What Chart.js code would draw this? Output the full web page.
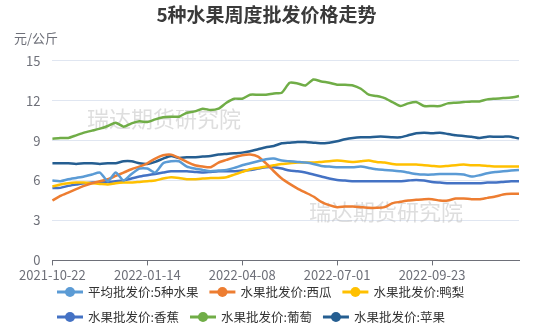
<!DOCTYPE html>
<html>
<head>
<meta charset="utf-8">
<script src="https://cdn.jsdelivr.net/npm/chart.js@4.4.1/dist/chart.umd.min.js"></script>
<style>
  html, body { margin: 0; padding: 0; background: #fff; }
</style>
</head>
<body>
<canvas id="fruitChart" width="550" height="330"></canvas>
<script>
// weekly dates (category axis)
const weeks = [
    "2021-10-22", "2021-10-29", "2021-11-05", "2021-11-12", "2021-11-19", "2021-11-26",
    "2021-12-03", "2021-12-10", "2021-12-17", "2021-12-24", "2021-12-31", "2022-01-07",
    "2022-01-14", "2022-01-21", "2022-01-28", "2022-02-04", "2022-02-11", "2022-02-18",
    "2022-02-25", "2022-03-04", "2022-03-11", "2022-03-18", "2022-03-25", "2022-04-01",
    "2022-04-08", "2022-04-15", "2022-04-22", "2022-04-29", "2022-05-06", "2022-05-13",
    "2022-05-20", "2022-05-27", "2022-06-03", "2022-06-10", "2022-06-17", "2022-06-24",
    "2022-07-01", "2022-07-08", "2022-07-15", "2022-07-22", "2022-07-29", "2022-08-05",
    "2022-08-12", "2022-08-19", "2022-08-26", "2022-09-02", "2022-09-09", "2022-09-16",
    "2022-09-23", "2022-09-30", "2022-10-07", "2022-10-14", "2022-10-21", "2022-10-28",
    "2022-11-04", "2022-11-11", "2022-11-18", "2022-11-25", "2022-12-02", "2022-12-09",
];

// only these dates get a label on the x axis
const xTickLabels = ["2021-10-22", "2022-01-14", "2022-04-08", "2022-07-01", "2022-09-23"];
const yTicks = [0, 3, 6, 9, 12, 15];

// 元/公斤
const avgPrice = [
    6.0, 5.95, 6.1, 6.2, 6.3, 6.45, 6.6, 5.95, 6.6, 6.0,
    6.5, 6.9, 6.9, 6.6, 7.3, 7.45, 7.45, 7.05, 6.9, 6.8,
    6.7, 6.75, 6.8, 6.95, 7.15, 7.3, 7.45, 7.6, 7.65, 7.5,
    7.45, 7.4, 7.35, 7.25, 7.1, 7.05, 7.0, 7.0, 7.0, 7.05,
    6.95, 6.85, 6.8, 6.75, 6.7, 6.6, 6.5, 6.45, 6.45, 6.5,
    6.5, 6.5, 6.45, 6.3, 6.4, 6.55, 6.65, 6.7, 6.75, 6.8,
];
const watermelon = [
    4.5, 4.85, 5.1, 5.35, 5.6, 5.8, 5.95, 6.1, 6.35, 6.6,
    6.85, 7.05, 7.3, 7.65, 7.9, 7.95, 7.7, 7.4, 7.15, 7.05,
    7.0, 7.35, 7.55, 7.75, 7.9, 7.95, 7.8, 7.3, 6.7, 6.15,
    5.75, 5.4, 5.1, 4.8, 4.4, 4.15, 4.0, 4.05, 4.05, 4.0,
    3.95, 3.95, 4.0, 4.3, 4.4, 4.5, 4.55, 4.6, 4.6, 4.5,
    4.5, 4.65, 4.65, 4.6, 4.6, 4.7, 4.8, 4.95, 5.0, 5.0,
];
const pear = [
    5.55, 5.7, 5.8, 5.85, 5.85, 5.8, 5.75, 5.7, 5.8, 5.85,
    5.85, 5.9, 5.95, 6.0, 6.15, 6.25, 6.2, 6.1, 6.1, 6.15,
    6.2, 6.2, 6.25, 6.45, 6.65, 6.85, 6.95, 7.05, 7.15, 7.25,
    7.3, 7.35, 7.35, 7.35, 7.4, 7.45, 7.5, 7.45, 7.4, 7.45,
    7.5, 7.4, 7.35, 7.25, 7.2, 7.2, 7.2, 7.15, 7.1, 7.05,
    7.1, 7.15, 7.2, 7.15, 7.15, 7.1, 7.05, 7.05, 7.05, 7.05,
];
const banana = [
    5.45, 5.45, 5.6, 5.7, 5.8, 5.85, 5.9, 5.9, 5.95, 6.0,
    6.15, 6.3, 6.4, 6.5, 6.6, 6.7, 6.7, 6.7, 6.65, 6.6,
    6.65, 6.7, 6.7, 6.7, 6.75, 6.8, 6.9, 7.0, 7.0, 6.9,
    6.75, 6.7, 6.6, 6.45, 6.3, 6.15, 6.05, 6.0, 5.95, 5.95,
    5.95, 5.95, 5.95, 5.95, 5.95, 6.0, 6.05, 6.0, 5.9, 5.85,
    5.8, 5.8, 5.8, 5.8, 5.8, 5.85, 5.85, 5.9, 5.95, 5.95,
];
const grape = [
    9.15, 9.2, 9.2, 9.4, 9.6, 9.75, 9.9, 10.1, 10.35, 10.05,
    10.3, 10.45, 10.4, 10.6, 10.75, 10.8, 10.8, 11.1, 11.2, 11.4,
    11.3, 11.4, 11.85, 12.15, 12.15, 12.45, 12.45, 12.45, 12.55, 12.6,
    13.35, 13.3, 13.15, 13.6, 13.45, 13.35, 13.2, 13.2, 13.15, 12.9,
    12.45, 12.35, 12.2, 11.9, 11.6, 11.8, 11.9, 11.6, 11.6, 11.6,
    11.8, 11.85, 11.9, 11.95, 11.95, 12.1, 12.15, 12.2, 12.25, 12.35,
];
const apple = [
    7.3, 7.3, 7.3, 7.25, 7.3, 7.3, 7.25, 7.3, 7.3, 7.45,
    7.45, 7.3, 7.25, 7.4, 7.65, 7.85, 7.7, 7.75, 7.75, 7.8,
    7.85, 7.95, 8.0, 8.05, 8.1, 8.2, 8.35, 8.5, 8.6, 8.8,
    8.85, 8.9, 8.9, 8.85, 8.8, 8.85, 8.95, 9.1, 9.2, 9.25,
    9.25, 9.3, 9.3, 9.25, 9.25, 9.4, 9.55, 9.6, 9.55, 9.6,
    9.5, 9.4, 9.35, 9.3, 9.2, 9.3, 9.3, 9.3, 9.3, 9.15,
];

const seriesNames = [
    "平均批发价:5种水果", "水果批发价:西瓜", "水果批发价:鸭梨",
    "水果批发价:香蕉", "水果批发价:葡萄", "水果批发价:苹果",
];
const seriesData = [avgPrice, watermelon, pear, banana, grape, apple];
const seriesColors = ["#5b9bd5", "#ed7d31", "#ffc000", "#4472c4", "#70ad47", "#255e91"];

const FONT = "'Noto Sans CJK SC', 'Noto Sans', sans-serif";

// watermark, unit label and the legend are drawn straight onto the canvas
const overlayPlugin = {
    id: 'overlay',
    beforeDatasetsDraw(chart) {
        const ctx = chart.ctx;
        ctx.save();
        ctx.font = `22px ${FONT}`;
        ctx.fillStyle = 'rgba(190, 190, 190, 0.5)';
        ctx.textAlign = 'center';
        ctx.textBaseline = 'middle';
        ctx.fillText('瑞达期货研究院', 164, 119);
        ctx.fillText('瑞达期货研究院', 386, 212);
        ctx.restore();
    },
    afterDraw(chart) {
        const ctx = chart.ctx;
        ctx.save();
        // y axis unit
        ctx.font = `13px ${FONT}`;
        ctx.fillStyle = '#6e7079';
        ctx.textAlign = 'left';
        ctx.textBaseline = 'middle';
        ctx.fillText('元/公斤', 14, 38);

        // legend, 3 items per row
        ctx.font = `12.5px ${FONT}`;
        let x = 57;
        let y = 292;
        chart.data.datasets.forEach((ds, i) => {
            if (i === 3) { x = 57; y = 317; }
            ctx.strokeStyle = ds.borderColor;
            ctx.lineWidth = 3;
            ctx.beginPath();
            ctx.moveTo(x, y);
            ctx.lineTo(x + 26, y);
            ctx.stroke();
            ctx.fillStyle = ds.borderColor;
            ctx.beginPath();
            ctx.arc(x + 13, y, 5, 0, Math.PI * 2);
            ctx.fill();
            ctx.fillStyle = '#333';
            ctx.fillText(ds.label, x + 31, y);
            x += 31 + ctx.measureText(ds.label).width + 11;
        });
        ctx.restore();
    }
};

function buildDatasets() {
    return seriesNames.map((name, i) => ({
        label: name,
        data: seriesData[i],
        borderColor: seriesColors[i],
        backgroundColor: seriesColors[i],
        borderWidth: 2.5,
        pointRadius: 0,
        tension: 0.2,
    }));
}

function createChart() {
    const ctx = document.getElementById('fruitChart').getContext('2d');
    return new Chart(ctx, {
        type: 'line',
        data: { labels: weeks, datasets: buildDatasets() },
        options: {
            responsive: false,
            animation: false,
            layout: { padding: { left: 14, right: 31, top: 0, bottom: 45 } },
            plugins: {
                legend: { display: false },
                tooltip: { enabled: false },
                title: {
                    display: true,
                    text: '5种水果周度批发价格走势',
                    color: '#3a3a3a',
                    font: { family: FONT, size: 19, weight: 'bold' },
                    padding: { top: 3, bottom: 35 },
                },
            },
            scales: {
                x: {
                    offset: false,
                    border: { color: '#6e7079' },
                    grid: {
                        drawOnChartArea: false,
                        tickLength: 5,
                        color: c => xTickLabels.includes(weeks[c.index]) ? '#6e7079' : 'rgba(0,0,0,0)',
                    },
                    ticks: {
                        autoSkip: false,
                        maxRotation: 0,
                        padding: 2,
                        color: '#6e7079',
                        font: { family: FONT, size: 13 },
                        callback: (v, i) => xTickLabels.includes(weeks[i]) ? weeks[i] : '',
                    },
                },
                y: {
                    min: yTicks[0],
                    max: yTicks[yTicks.length - 1],
                    border: { display: false },
                    grid: { color: '#e0e6f1', drawTicks: false },
                    ticks: {
                        stepSize: 3,
                        padding: 12,
                        color: '#6e7079',
                        font: { family: FONT, size: 13 },
                    },
                },
            },
        },
        plugins: [overlayPlugin],
    });
}

window.onload = createChart;
</script>
</body>
</html>
